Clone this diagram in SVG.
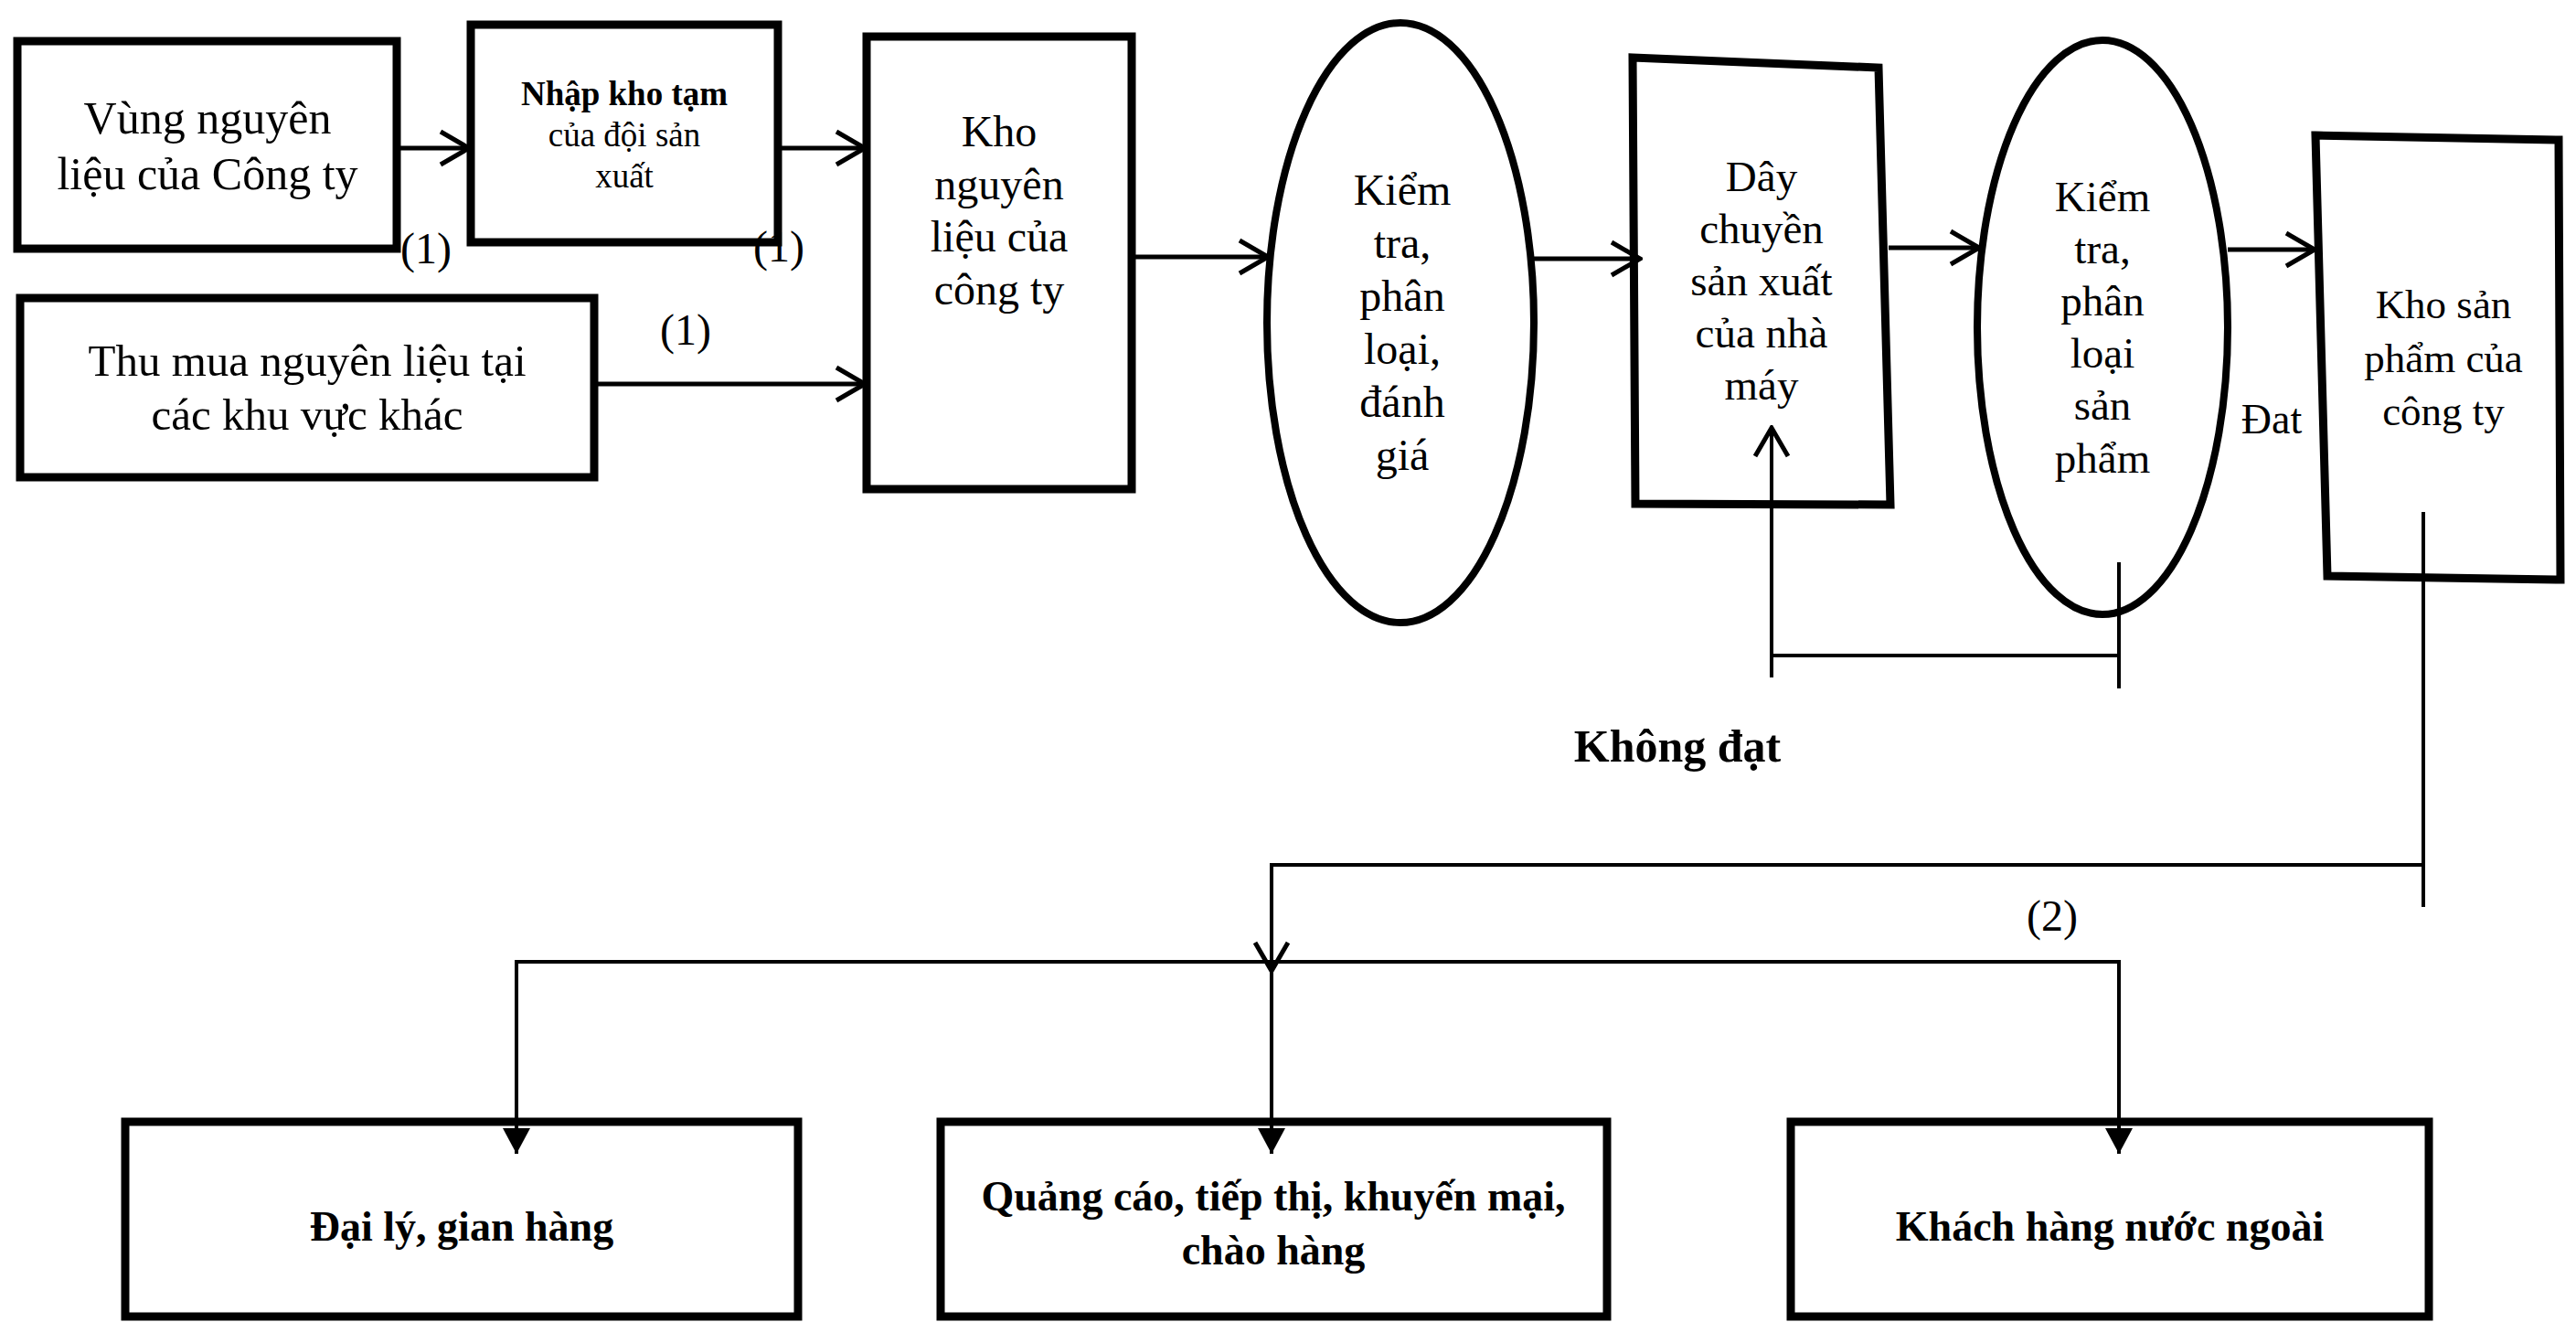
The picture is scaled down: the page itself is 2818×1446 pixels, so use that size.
<svg xmlns="http://www.w3.org/2000/svg" width="2818" height="1446" viewBox="0 0 2818 1446">
<style>
.box{fill:#fff;stroke:#000;stroke-width:9;stroke-linejoin:miter}
.ell{fill:#fff;stroke:#000;stroke-width:8}
.t{font-family:"Liberation Serif","Times New Roman",serif;fill:#000;text-anchor:middle}
.b{font-weight:bold}
.c{fill:none;stroke:#000;stroke-width:5}
.c2{fill:none;stroke:#000;stroke-width:4}
</style>
<defs>
<marker id="arrOpen" markerUnits="userSpaceOnUse" markerWidth="36" markerHeight="44" viewBox="0 0 36 44" refX="33" refY="22" orient="auto">
<path d="M2,4 L33,22 L2,40" fill="none" stroke="#000" stroke-width="5"/>
</marker>
<marker id="arrFill" markerUnits="userSpaceOnUse" markerWidth="30" markerHeight="32" viewBox="0 0 30 32" refX="28" refY="16" orient="auto">
<path d="M0,1 L28,16 L0,31 Z" fill="#000"/>
</marker>
</defs>
<rect width="2818" height="1446" fill="#fff"/>

<g id="vung-nguyen-lieu">
<rect class="box" x="19" y="45" width="415" height="227"/>
<text class="t" font-size="50" x="227" y="146">Vùng nguyên</text>
<text class="t" font-size="50" x="227" y="207">liệu của Công ty</text>
</g>

<g id="nhap-kho-tam">
<rect class="box" x="515" y="27" width="336" height="238"/>
<text class="t b" font-size="37" x="683" y="115">Nhập kho tạm</text>
<text class="t" font-size="37" x="683" y="160">của đội sản</text>
<text class="t" font-size="37" x="683" y="205">xuất</text>
</g>

<g id="thu-mua">
<rect class="box" x="22" y="326" width="628" height="196"/>
<text class="t" font-size="49" x="336" y="411">Thu mua nguyên liệu tại</text>
<text class="t" font-size="49" x="336" y="470">các khu vực khác</text>
</g>

<g id="label-1a"><text class="t" font-size="48" x="466" y="288">(1)</text></g>
<g id="label-1b"><text class="t" font-size="48" x="852" y="286">(1)</text></g>
<g id="label-1c"><text class="t" font-size="48" x="750" y="377">(1)</text></g>

<g id="kho-nguyen-lieu">
<rect class="box" x="948" y="40" width="290" height="495"/>
<text class="t" font-size="48" x="1093" y="160">Kho</text>
<text class="t" font-size="48" x="1093" y="218">nguyên</text>
<text class="t" font-size="48" x="1093" y="275">liệu của</text>
<text class="t" font-size="48" x="1093" y="333">công ty</text>
</g>

<g id="kiem-tra-1">
<ellipse class="ell" cx="1532" cy="353" rx="146" ry="328"/>
<text class="t" font-size="48" x="1534" y="224">Kiểm</text>
<text class="t" font-size="48" x="1534" y="282">tra,</text>
<text class="t" font-size="48" x="1534" y="340">phân</text>
<text class="t" font-size="48" x="1534" y="398">loại,</text>
<text class="t" font-size="48" x="1534" y="456">đánh</text>
<text class="t" font-size="48" x="1534" y="514">giá</text>
</g>

<g id="day-chuyen">
<polygon class="box" points="1786,63 2055,74 2068,552 1789,551"/>
<text class="t" font-size="47" x="1927" y="209">Dây</text>
<text class="t" font-size="47" x="1927" y="266">chuyền</text>
<text class="t" font-size="47" x="1927" y="323">sản xuất</text>
<text class="t" font-size="47" x="1927" y="380">của nhà</text>
<text class="t" font-size="47" x="1927" y="437">máy</text>
</g>

<g id="kiem-tra-2">
<ellipse class="ell" cx="2300" cy="358" rx="137" ry="314"/>
<text class="t" font-size="47" x="2300" y="231">Kiểm</text>
<text class="t" font-size="47" x="2300" y="288">tra,</text>
<text class="t" font-size="47" x="2300" y="345">phân</text>
<text class="t" font-size="47" x="2300" y="402">loại</text>
<text class="t" font-size="47" x="2300" y="459">sản</text>
<text class="t" font-size="47" x="2300" y="517">phẩm</text>
</g>

<g id="label-dat"><text class="t" font-size="46" x="2485" y="474">Đat</text></g>

<g id="kho-san-pham">
<polygon class="box" points="2533,148 2799,153 2801,634 2546,630"/>
<text class="t" font-size="45" x="2673" y="348">Kho sản</text>
<text class="t" font-size="45" x="2673" y="407">phẩm của</text>
<text class="t" font-size="45" x="2673" y="465">công ty</text>
</g>

<g id="label-khong-dat"><text class="t b" font-size="50" x="1835" y="833">Không đạt</text></g>
<g id="label-2"><text class="t" font-size="48" x="2245" y="1018">(2)</text></g>

<g id="dai-ly">
<rect class="box" x="137" y="1227" width="736" height="213"/>
<text class="t b" font-size="46" x="505" y="1357">Đại lý, gian hàng</text>
</g>

<g id="quang-cao">
<rect class="box" x="1029" y="1227" width="729" height="213"/>
<text class="t b" font-size="46" x="1393" y="1324">Quảng cáo, tiếp thị, khuyến mại,</text>
<text class="t b" font-size="46" x="1393" y="1383">chào hàng</text>
</g>

<g id="khach-hang">
<rect class="box" x="1959" y="1227" width="698" height="213"/>
<text class="t b" font-size="46" x="2308" y="1357">Khách hàng nước ngoài</text>
</g>

<g id="connectors">
<line class="c" x1="434" y1="162" x2="513" y2="162" marker-end="url(#arrOpen)"/>
<line class="c" x1="851" y1="162" x2="946" y2="162" marker-end="url(#arrOpen)"/>
<line class="c" x1="650" y1="420" x2="946" y2="420" marker-end="url(#arrOpen)"/>
<line class="c" x1="1238" y1="281" x2="1387" y2="281" marker-end="url(#arrOpen)"/>
<line class="c" x1="1678" y1="283" x2="1794" y2="283" marker-end="url(#arrOpen)"/>
<line class="c" x1="2066" y1="271" x2="2165" y2="271" marker-end="url(#arrOpen)"/>
<line class="c" x1="2437" y1="273" x2="2532" y2="273" marker-end="url(#arrOpen)"/>
<line class="c2" x1="1938" y1="741" x2="1938" y2="468" marker-end="url(#arrOpen)"/>
<line class="c2" x1="1936" y1="717" x2="2320" y2="717"/>
<line class="c2" x1="2318" y1="615" x2="2318" y2="753"/>
<line class="c2" x1="2651" y1="560" x2="2651" y2="992"/>
<line class="c2" x1="1389" y1="946" x2="2653" y2="946"/>
<line class="c2" x1="1391" y1="944" x2="1391" y2="1062" marker-end="url(#arrOpen)"/>
<line class="c2" x1="563" y1="1052" x2="2320" y2="1052"/>
<line class="c2" x1="565" y1="1050" x2="565" y2="1262" marker-end="url(#arrFill)"/>
<line class="c2" x1="1391" y1="1052" x2="1391" y2="1262" marker-end="url(#arrFill)"/>
<line class="c2" x1="2318" y1="1050" x2="2318" y2="1262" marker-end="url(#arrFill)"/>
</g>
</svg>
